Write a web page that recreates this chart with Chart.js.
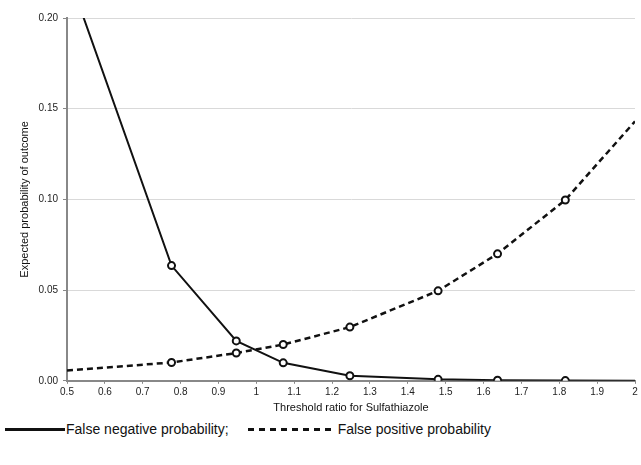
<!DOCTYPE html>
<html>
<head>
<meta charset="utf-8">
<script src="https://cdn.jsdelivr.net/npm/chart.js@4"></script>
<style>
  body { margin: 0; background: #fff; font-family: "Liberation Sans", Arial, sans-serif; }
  #wrap { position: relative; width: 641px; height: 465px; }
  #chart-box { position: absolute; left: 0; top: 0; width: 641px; height: 420px; }
  #legend { position: absolute; left: 5px; top: 421px; font-size: 14px; color: #111; display: flex; align-items: center; white-space: nowrap; }
  .solid { width: 60px; height: 0; border-top: 3px solid #111; margin-right: 1px; }
  .dotted { width: 86px; height: 3px; margin-left: 19px; margin-right: 4px;
    background: repeating-linear-gradient(90deg, #111 0 6px, transparent 6px 11px); }
</style>
</head>
<body>
<div id="wrap">
  <div id="chart-box"><canvas id="chart"></canvas></div>
  <div id="legend">
    <span class="solid"></span><span>False negative probability;</span>
    <span class="dotted"></span><span>False positive probability</span>
  </div>
</div>
<script>
const thresholds = [0.5, 0.776, 0.947, 1.071, 1.247, 1.48, 1.637, 1.816, 2.0];
const falseNegative = [0.226, 0.0635, 0.022, 0.0099, 0.0028, 0.0008, 0.0003, 0.0001, 0.00005];
const falsePositive = [0.0057, 0.0101, 0.0153, 0.020, 0.0296, 0.0496, 0.070, 0.0997, 0.143];
const markerShown = [false, true, true, true, true, true, true, true, false];

const yTicks = [0, 0.05, 0.10, 0.15, 0.20];

const toPoints = values => thresholds.map((t, i) => ({ x: t, y: values[i] }));
const radii = markerShown.map(s => (s ? 3.5 : 0));

const ctx = document.getElementById('chart').getContext('2d');

new Chart(ctx, {
  type: 'line',
  data: {
    datasets: [
      {
        label: 'False negative probability',
        data: toPoints(falseNegative),
        borderColor: '#111',
        borderWidth: 2,
        tension: 0,
        pointRadius: radii,
        pointBackgroundColor: '#fff',
        pointBorderColor: '#111',
        pointBorderWidth: 2,
      },
      {
        label: 'False positive probability',
        data: toPoints(falsePositive),
        borderColor: '#111',
        borderWidth: 2.5,
        borderDash: [6, 4],
        tension: 0,
        pointRadius: radii,
        pointBackgroundColor: '#fff',
        pointBorderColor: '#111',
        pointBorderWidth: 2,
      },
    ],
  },
  options: {
    responsive: true,
    maintainAspectRatio: false,
    animation: false,
    layout: { padding: { top: 18, right: 6, left: 18, bottom: 5 } },
    plugins: {
      legend: { display: false },
      tooltip: { enabled: false },
    },
    scales: {
      x: {
        type: 'linear',
        min: 0.5,
        max: 2,
        ticks: {
          stepSize: 0.1,
          color: '#222',
          font: { family: 'Liberation Sans', size: 10 },
          padding: 2,
          callback: v => String(Number(v.toFixed(1))),
        },
        grid: { drawOnChartArea: false, tickLength: 3, color: '#888' },
        border: { color: '#888', width: 2 },
        title: {
          display: true,
          text: 'Threshold ratio for Sulfathiazole',
          color: '#111',
          font: { family: 'Liberation Sans', size: 11 },
          padding: { top: 2, bottom: 0 },
        },
      },
      y: {
        min: 0,
        max: 0.2,
        afterBuildTicks: axis => { axis.ticks = yTicks.map(v => ({ value: v })); },
        afterFit: axis => { axis.width = 49; },
        ticks: {
          color: '#222',
          font: { family: 'Liberation Sans', size: 10 },
          callback: v => v.toFixed(2),
          padding: 5,
        },
        grid: { color: '#d9d9d9', tickColor: '#888', tickLength: 4 },
        border: { color: '#888', width: 2 },
        title: {
          display: true,
          text: 'Expected probability of outcome',
          color: '#111',
          font: { family: 'Liberation Sans', size: 11 },
          padding: { top: 0, bottom: 4 },
        },
      },
    },
  },
});
</script>
</body>
</html>
